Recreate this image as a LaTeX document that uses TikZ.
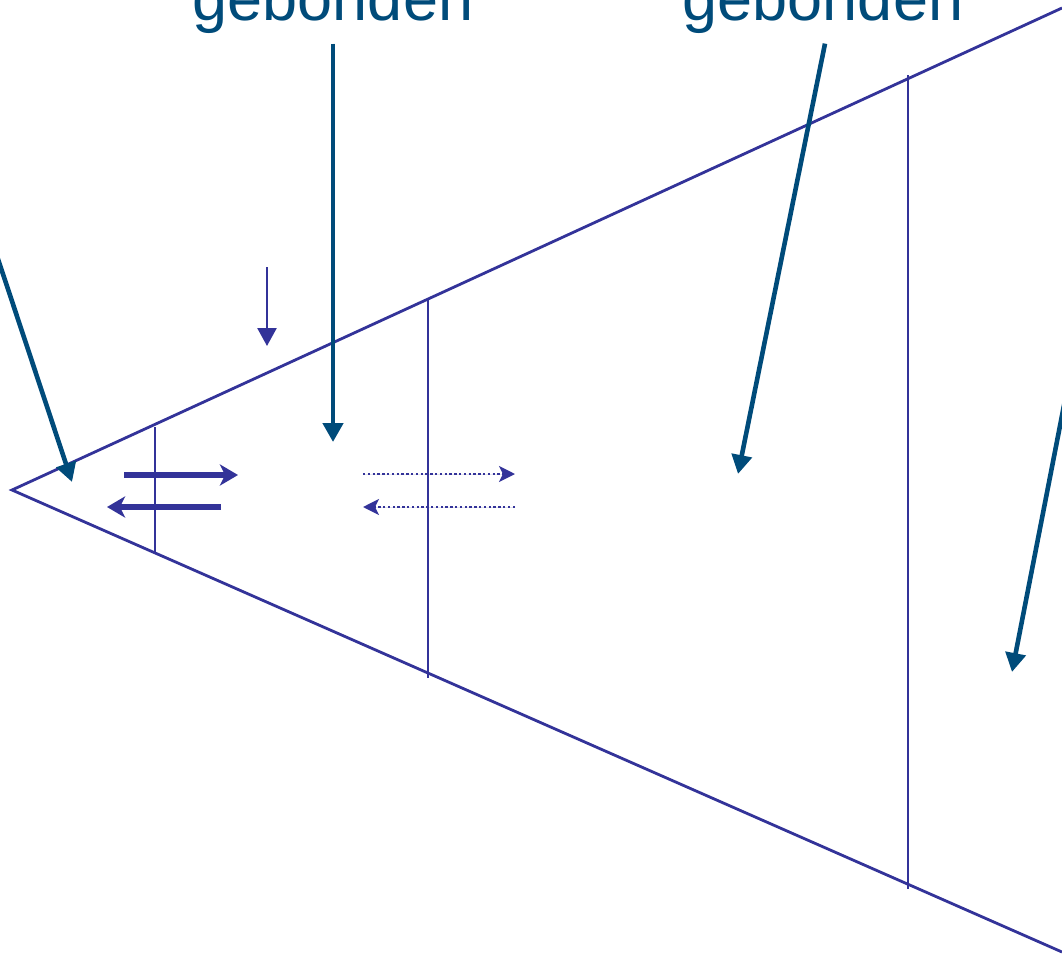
\documentclass[tikz,border=0pt]{standalone}
\usepackage{fontspec}
\setmainfont{Liberation Sans}
\usetikzlibrary{arrows.meta,positioning}
\definecolor{labelblue}{RGB}{0,75,122}
\definecolor{conebl}{RGB}{51,51,153}
\tikzset{
  cone/.style={draw=conebl, line width=2.8pt},
  pointer/.style={draw=labelblue, fill=labelblue, line width=4.6pt,
                  -{Triangle[length=19pt,width=20pt]}},
  flux/.style={draw=conebl, fill=conebl, line width=5.5pt,
               -{Stealth[length=18pt,width=21pt,inset=5pt]}},
  leak/.style={draw=conebl, fill=conebl, line width=2.6pt, dash pattern=on 2.4pt off 2.4pt,
               -{Stealth[length=16pt,width=16pt,inset=4pt]}},
  tag/.style={text=labelblue, font=\fontsize{63}{70}\selectfont, anchor=base}
}
\begin{document}
\begin{tikzpicture}[x=1pt,y=-1pt]
  \useasboundingbox (0,0) rectangle (1062,958);
  % cone and its sections
  \coordinate (apex) at (12,490);
  \coordinate (topend) at (1062,8);
  \coordinate (botend) at (1062,952);
  \draw[cone] (topend) -- (apex) -- (botend);
  \foreach \x/\t/\b in {155/427/553, 428/298/678, 908/75/889}{
    \draw[cone] (\x,\t) -- (\x,\b);
  }
  % labels (cut off at the top)
  \node[tag] (gebA) at (333,21) {gebonden};
  \node[tag] (gebB) at (823,21) {gebonden};
  \coordinate (offL) at (-4,253);
  \coordinate (offR) at (1066,395);
  \coordinate (tipL) at (72,482);
  \coordinate (tipA) at (333,442);
  \coordinate (tipB) at (738,474);
  \coordinate (tipR) at (1012,672);
  \draw[pointer] (offL) -- (tipL);
  \draw[pointer] ([yshift=-6pt]gebA.south) -- (tipA);
  \draw[pointer] ([xshift=2pt,yshift=-6pt]gebB.south) -- (tipB);
  \draw[pointer] (offR) -- (tipR);
  % small inflow arrow
  \draw[draw=conebl, fill=conebl, line width=2.6pt,
        -{Triangle[length=18pt,width=19pt]}] (267,267) -- (267,346);
  % exchange arrows
  \draw[flux] (124,475) -- (238,475);
  \draw[flux] (221,507) -- (107,507);
  \draw[leak] (363,474) -- (515,474);
  \draw[leak] (515,507) -- (363,507);
\end{tikzpicture}
\end{document}
